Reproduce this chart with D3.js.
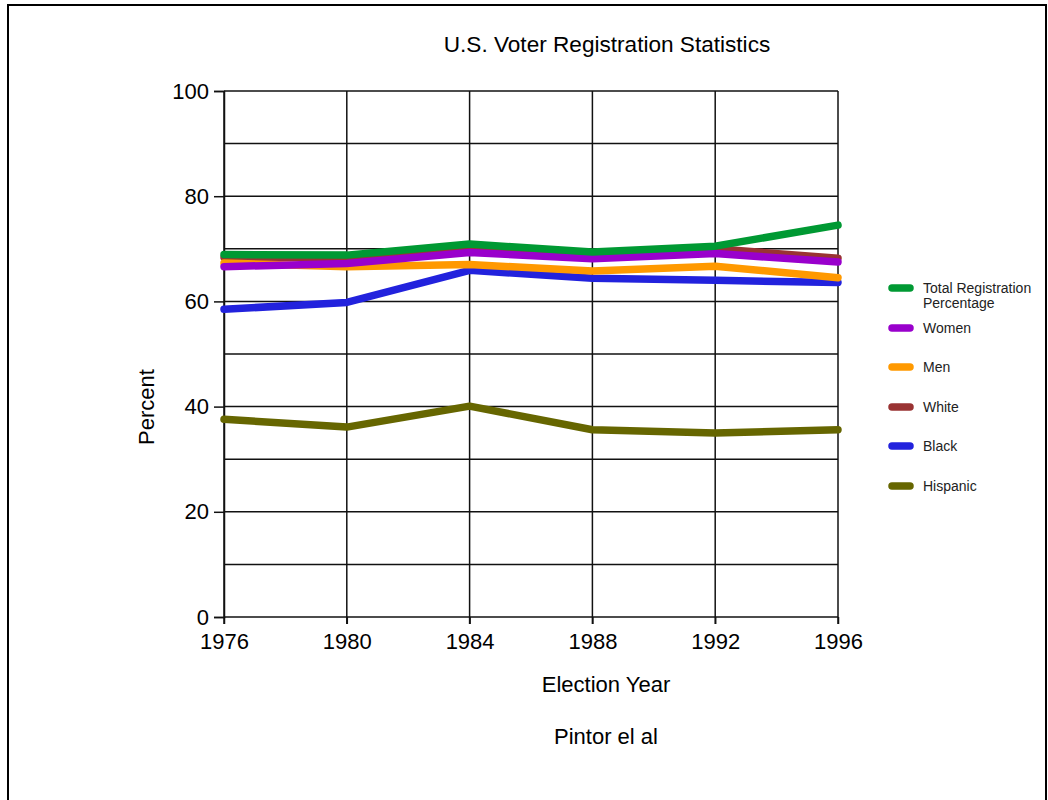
<!DOCTYPE html>
<html><head><meta charset="utf-8">
<script src="https://cdn.jsdelivr.net/npm/d3@7"></script>
<style>
html,body{margin:0;padding:0;background:#fff;}
svg{display:block;font-family:"Liberation Sans",Arial,Helvetica,sans-serif;}
</style></head>
<body>
<svg id="chart" width="1048" height="800"></svg>
<script>
const years = [1976, 1980, 1984, 1988, 1992, 1996];
const total    = [68.9, 68.8, 70.9, 69.4, 70.5, 74.5];
const women    = [66.6, 67.2, 69.3, 68.1, 69.1, 67.5];
const men      = [67.3, 66.6, 67.0, 65.8, 66.7, 64.5];
const white    = [68.4, 68.4, 70.1, 68.8, 70.0, 68.2];
const black    = [58.5, 59.8, 65.9, 64.4, 64.0, 63.6];
const hispanic = [37.6, 36.1, 40.1, 35.6, 35.0, 35.6];
const seriesNames = ["Total Registration Percentage", "Women", "Men", "White", "Black", "Hispanic"];
const seriesColors = ["#009933", "#9900cc", "#ff9900", "#993333", "#2222dd", "#666600"];
const yTicks = [0, 20, 40, 60, 80, 100];
const yGrid = [0, 10, 20, 30, 40, 50, 60, 70, 80, 90, 100];

const seriesValues = [total, women, men, white, black, hispanic];
const svg = d3.select("#chart");

// page frame
svg.append("rect").attr("x", 8).attr("y", 5).attr("width", 1038).attr("height", 900)
  .attr("fill", "none").attr("stroke", "#000").attr("stroke-width", 2);

const x = d3.scaleLinear().domain([1976, 1996]).range([224, 838]);
const y = d3.scaleLinear().domain([0, 100]).range([617, 91]);

const g = svg.append("g");
g.selectAll("line.h").data(yGrid).enter().append("line")
  .attr("x1", x(1976)).attr("x2", x(1996))
  .attr("y1", d => y(d)).attr("y2", d => y(d))
  .attr("stroke", "#111").attr("stroke-width", 1.5);
g.selectAll("line.v").data(years).enter().append("line")
  .attr("x1", d => x(d)).attr("x2", d => x(d))
  .attr("y1", y(100)).attr("y2", y(0) + 7)
  .attr("stroke", "#111").attr("stroke-width", 1.5);

const yAxis = d3.axisLeft(y).tickValues(yTicks).tickSize(10).tickPadding(5).tickFormat(d3.format("d"));
const ya = svg.append("g").attr("transform", `translate(${x(1976)},0)`).call(yAxis);
ya.select(".domain").attr("stroke", "#111").attr("stroke-width", 1.5);
ya.selectAll(".tick line").attr("stroke", "#111").attr("stroke-width", 1.5);
ya.selectAll(".tick text").attr("font-size", 22).attr("fill", "#000")
  .attr("font-family", "'Liberation Sans',Arial,sans-serif");

const xAxis = d3.axisBottom(x).tickValues(years).tickSize(7).tickPadding(9).tickFormat(d3.format("d"));
const xa = svg.append("g").attr("transform", `translate(0,${y(0)})`).call(xAxis);
xa.select(".domain").remove();
xa.selectAll(".tick line").attr("stroke", "#111").attr("stroke-width", 1.5);
xa.selectAll(".tick text").attr("font-size", 22).attr("fill", "#000")
  .attr("font-family", "'Liberation Sans',Arial,sans-serif");

const line = d3.line().x((d, i) => x(years[i])).y(d => y(d));
for (let k = seriesValues.length - 1; k >= 0; k--) {
  svg.append("path").datum(seriesValues[k])
    .attr("d", line).attr("fill", "none")
    .attr("stroke", seriesColors[k]).attr("stroke-width", 7.5)
    .attr("stroke-linecap", "round").attr("stroke-linejoin", "round");
}

svg.append("text").attr("x", 607).attr("y", 52).attr("text-anchor", "middle")
  .attr("font-size", 22.6).text("U.S. Voter Registration Statistics");
svg.append("text").attr("x", 606).attr("y", 692).attr("text-anchor", "middle")
  .attr("font-size", 22).text("Election Year");
svg.append("text").attr("x", 606).attr("y", 744).attr("text-anchor", "middle")
  .attr("font-size", 22).text("Pintor el al");
svg.append("text").attr("transform", "translate(154,407) rotate(-90)").attr("text-anchor", "middle")
  .attr("font-size", 22).text("Percent");

const legendY = [288, 328, 367, 407, 446, 486];
const lg = svg.append("g");
seriesNames.forEach((name, i) => {
  lg.append("line").attr("x1", 892).attr("x2", 910)
    .attr("y1", legendY[i]).attr("y2", legendY[i])
    .attr("stroke", seriesColors[i]).attr("stroke-width", 7.5).attr("stroke-linecap", "round");
  const t = lg.append("text").attr("x", 923).attr("y", legendY[i] + 5).attr("font-size", 14).attr("fill", "#222");
  if (i === 0) {
    t.append("tspan").attr("x", 923).text("Total Registration");
    t.append("tspan").attr("x", 923).attr("dy", 15).text("Percentage");
  } else {
    t.text(name);
  }
});
</script>
</body></html>
